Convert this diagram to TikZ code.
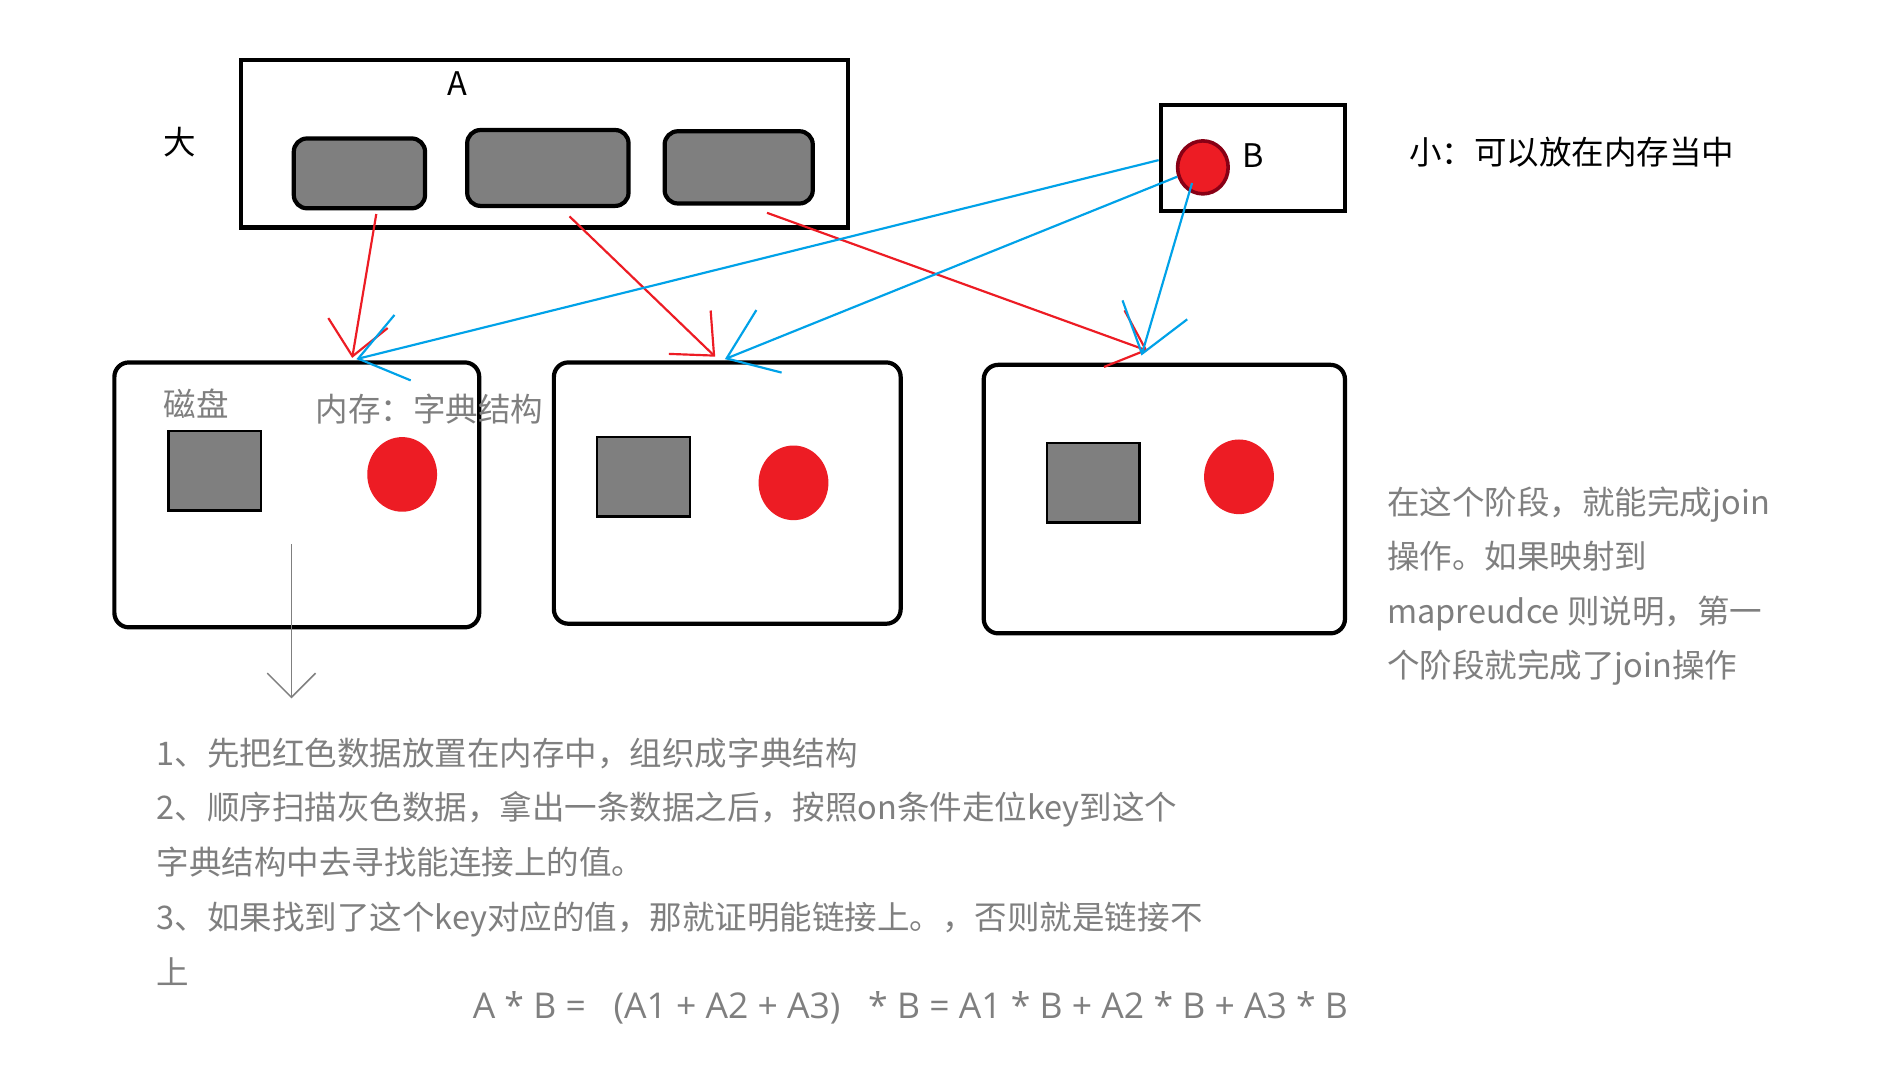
\documentclass[tikz,border=0pt]{standalone}
\usepackage{fontspec}
\setmainfont{Noto Sans CJK SC}
\newfontfamily\latinfont{Open Sans}
\usepackage{tikz}
\usetikzlibrary{shapes.geometric, arrows.meta, positioning, calc}
\definecolor{paintred}{HTML}{ED1C24}
\definecolor{darkred}{HTML}{880015}
\definecolor{paintblue}{HTML}{00A2E8}
\definecolor{paintgray}{HTML}{7F7F7F}

\begin{document}
\begin{tikzpicture}[x=1pt, y=-1pt,
    frame/.style={rectangle, draw=black, line width=3.5pt, inner sep=0pt},
    lowbox/.style={frame, rounded corners=12pt},
    block/.style={rectangle, draw=black, fill=paintgray, line width=3.5pt,
        rounded corners=11pt, inner sep=0pt},
    sq/.style={rectangle, draw=black, fill=paintgray, line width=2pt,
        inner sep=0pt, minimum width=77pt, minimum height=66pt},
    dot/.style={ellipse, fill=paintred, inner sep=0pt,
        minimum width=58pt, minimum height=62pt},
    lbl/.style={font=\fontsize{27}{32}\selectfont, inner sep=0pt, anchor=base west},
    note/.style={lbl, text=paintgray},
    redarr/.style={-{Straight Barb[length=28pt, width=50pt]}, paintred, line width=1.8pt},
    bluearr/.style={-{Straight Barb[length=38pt, width=56pt]}, paintblue, line width=1.8pt},
    grayarr/.style={-{Straight Barb[length=20pt, width=40pt]}, paintgray, line width=1.3pt}
]
\useasboundingbox[fill=white] (0,0) rectangle (1568,894);

% big table A
\node[frame, minimum width=504pt, minimum height=139pt] (Abox) at (452,119.5) {};
\node[lbl, anchor=base] (Alabel) at (380,79) {A};
\node[lbl] (big) at (136,128) {大};
\node[block, minimum width=109pt, minimum height=58pt] (b1) at (298.5,144) {};
\node[block, minimum width=134pt, minimum height=63pt] (b2) at (455,139.5) {};
\node[block, minimum width=123pt, minimum height=60pt] (b3) at (613.5,139) {};

% small table B
\node[frame, minimum width=153pt, minimum height=88pt] (Bbox) at (1040.5,131) {};
\node[ellipse, fill=paintred, draw=darkred, line width=3pt, inner sep=0pt,
    minimum width=42pt, minimum height=44pt] (Bdot) at (999,139) {};
\node[lbl, anchor=base] (Blabel) at (1041,139) {B};
\node[lbl] (small) at (1170,137) {小：可以放在内存当中};

% map tasks
\node[lowbox, minimum width=303pt, minimum height=220pt] (L1) at (246.5,411) {};
\node[lowbox, minimum width=288pt, minimum height=217pt] (L2) at (604,409.5) {};
\node[lowbox, minimum width=300pt, minimum height=223pt] (L3) at (967,414.5) {};
\node[sq] (s1) at (178.5,391) {};
\node[sq] (s2) at (534.5,396) {};
\node[sq] (s3) at (908,401) {};
\node[dot] (d1) at (334,394) {};
\node[dot] (d2) at (659,401) {};
\node[dot] (d3) at (1029,396) {};
\node[note] (disk) at (136,346) {磁盘};
\node[note] (mem) at (262,350) {内存：字典结构};

% splits of A
\draw[redarr] ([shift={(14,3)}]b1.south) -- ([shift={(46,-2)}]L1.north);
\draw[redarr] ([shift={(18,7)}]b2.south) -- ([shift={(-10,-3)}]L2.north);
\draw[redarr] ([shift={(23.5,6)}]b3.south) -- ([shift={(-14,-10)}]L3.north);
% B broadcast
\draw[bluearr] ([yshift=-2pt]Bbox.west) -- ([shift={(49.5,-1)}]L1.north);
\draw[bluearr] (Bdot.200) -- ([shift={(-2,-1)}]L2.north);
\draw[bluearr] ([shift={(-9,13)}]Bdot.center) -- ([shift={(-19,-6)}]L3.north);

% notes
\node[note] (side1) at (1152,427) {在这个阶段，就能完成join};
\node[note] (side2) at (1152,472) {操作。如果映射到};
\node[note] (side3) at (1152,518) {mapreudce 则说明，第一};
\node[note] (side4) at (1152,563) {个阶段就完成了join操作};

\coordinate (down) at (242,580);
\draw[grayarr] ([shift={(-4.5,41)}]L1.center) -- (down);

\node[note] (step1) at (130,636) {1、先把红色数据放置在内存中，组织成字典结构};
\node[note] (step2) at (130,681) {2、顺序扫描灰色数据，拿出一条数据之后，按照on条件走位key到这个};
\node[note] (step2b) at (130,726) {字典结构中去寻找能连接上的值。};
\node[note] (step3) at (130,772) {3、如果找到了这个key对应的值，那就证明能链接上。，否则就是链接不};
\node[note] (step3b) at (130,818) {上};
\node[note, anchor=base, font=\fontsize{29.5}{34}\selectfont] (formula) at (756,846)
    {\latinfont A * B =\ \ \ (A1 + A2 + A3)\ \ \ * B = A1 * B + A2 * B + A3 * B};
\end{tikzpicture}
\end{document}
